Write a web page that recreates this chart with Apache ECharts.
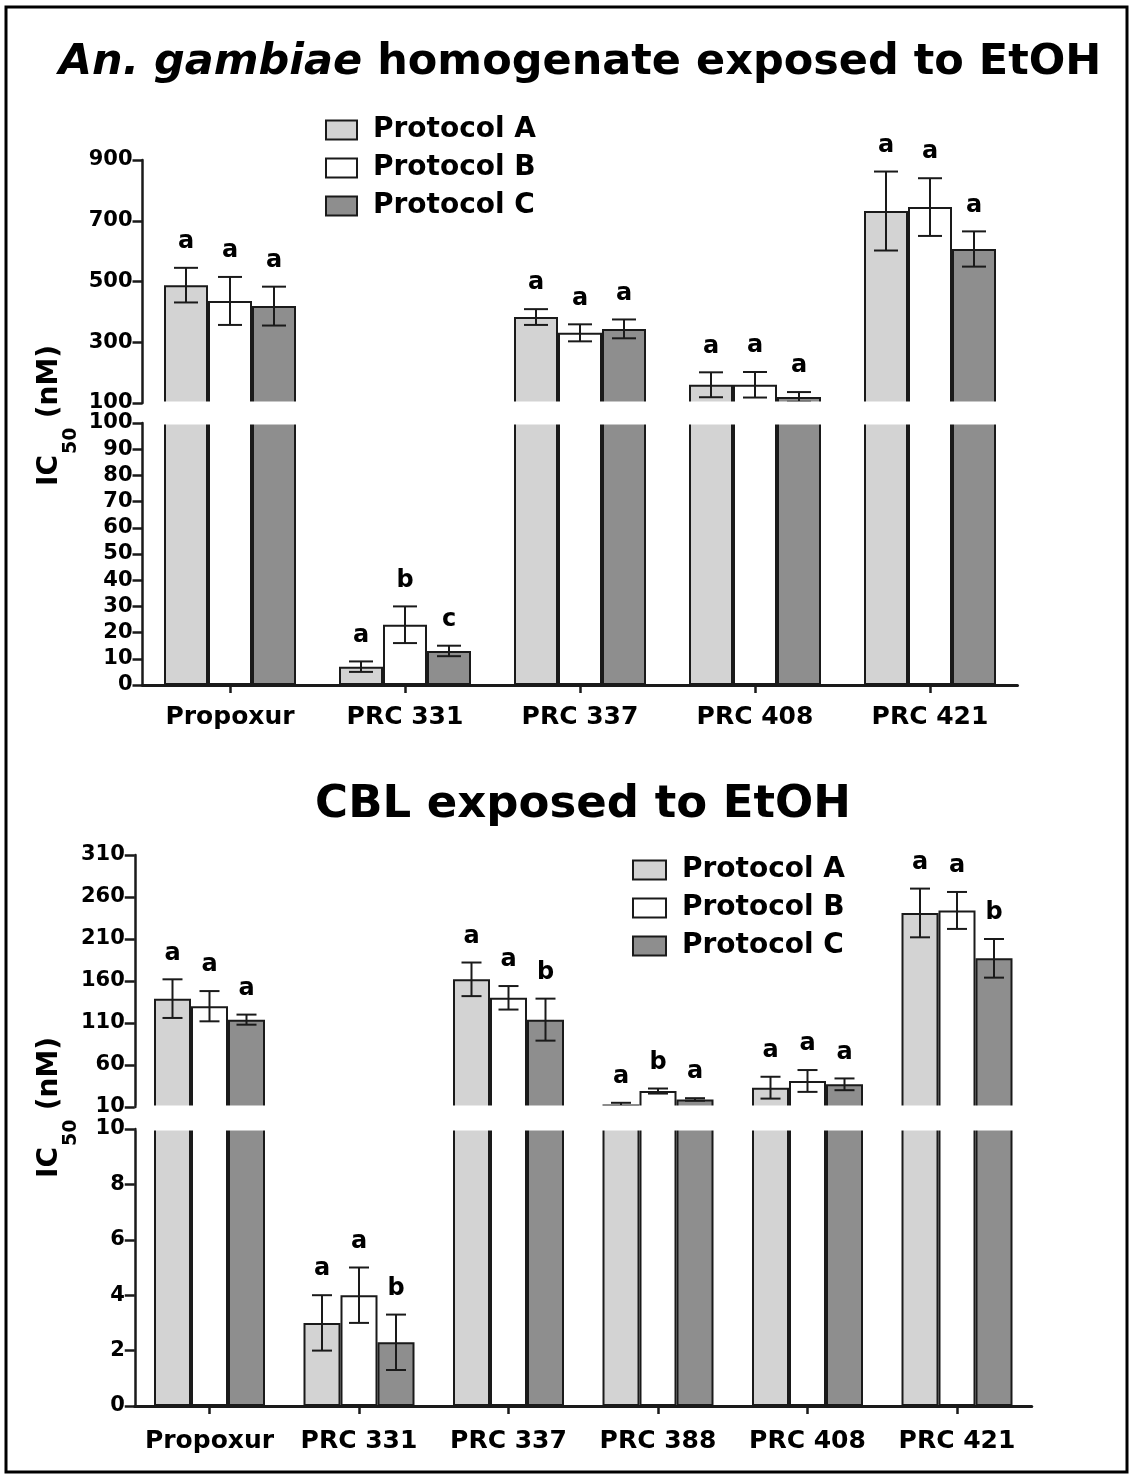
<!DOCTYPE html>
<html>
<head>
<meta charset="utf-8">
<title>IC50 - An. gambiae / CBL</title>
<script src="https://cdn.jsdelivr.net/npm/echarts@6.0.0/dist/echarts.min.js"></script>
<style>
html, body { margin: 0; padding: 0; background: #fff; }
#chart { width: 1133px; height: 1479px; }
</style>
</head>
<body>
<div id="chart"></div>
<script>
var protocols = ['Protocol A', 'Protocol B', 'Protocol C'];
var colors = ['#d3d3d3', '#ffffff', '#8e8e8e'];

// top panel: An. gambiae homogenate exposed to EtOH
var topCats = ['Propoxur', 'PRC 331', 'PRC 337', 'PRC 408', 'PRC 421'];
var topA = [488, 7, 383, 160, 732];
var topB = [436, 23, 331, 160, 745];
var topC = [419, 13, 344, 120, 607];
var topAErr = [57, 2, 26, 41, 130];
var topBErr = [79, 7, 28, 42, 95];
var topCErr = [64, 2, 31, 16, 58];
var topALetter = ['a', 'a', 'a', 'a', 'a'];
var topBLetter = ['a', 'b', 'a', 'a', 'a'];
var topCLetter = ['a', 'c', 'a', 'a', 'a'];
var topHiTicks = [100, 300, 500, 700, 900];
var topLoTicks = [0, 10, 20, 30, 40, 50, 60, 70, 80, 90, 100];

// bottom panel: CBL exposed to EtOH
var botCats = ['Propoxur', 'PRC 331', 'PRC 337', 'PRC 388', 'PRC 408', 'PRC 421'];
var botA = [139, 3, 162, 13, 33, 241];
var botB = [130, 4, 140, 29, 41, 244];
var botC = [114, 2.3, 114, 19, 37, 187];
var botAErr = [23, 1, 20, 2, 13, 29];
var botBErr = [18, 1, 14, 3, 13, 22];
var botCErr = [6, 1, 25, 1.5, 7, 23];
var botALetter = ['a', 'a', 'a', 'a', 'a', 'a'];
var botBLetter = ['a', 'a', 'a', 'b', 'a', 'a'];
var botCLetter = ['a', 'b', 'b', 'a', 'a', 'b'];
var botHiTicks = [10, 60, 110, 160, 210, 260, 310];
var botLoTicks = [0, 2, 4, 6, 8, 10];

var FONT = '"DejaVu Sans", "Liberation Sans", sans-serif';
var INK = '#1a1a1a';

// grid index: 0 top-upper, 1 top-lower, 2 bottom-upper, 3 bottom-lower
var grids = [
	{ left: 142.5, right: 115.5, top: 160, height: 243 },
	{ left: 142.5, right: 115.5, top: 423, height: 262 },
	{ left: 134.75, right: 101.25, top: 855, height: 252 },
	{ left: 134.75, right: 101.25, top: 1129, height: 277 }
];

function xAxisFor(idx, cats, shown, margin) {
	return {
		type: 'category', gridIndex: idx, data: cats, show: shown,
		axisLine: { show: shown, lineStyle: { color: INK, width: 3 } },
		axisTick: { show: shown, alignWithLabel: true, length: 8, lineStyle: { color: INK, width: 2.5 } },
		axisLabel: { show: shown, margin: margin, fontFamily: FONT, fontWeight: 'bold', fontSize: 25, color: '#000', interval: 0 }
	};
}

function yAxisFor(idx, ticks) {
	return {
		type: 'value', gridIndex: idx,
		min: ticks[0], max: ticks[ticks.length - 1], interval: ticks[1] - ticks[0],
		splitLine: { show: false },
		axisLine: { show: true, lineStyle: { color: INK, width: 2.5 } },
		axisTick: { show: true, length: 10, lineStyle: { color: INK, width: 2.5 } },
		axisLabel: { margin: 10, fontFamily: FONT, fontWeight: 'bold', fontSize: 21, color: '#000' }
	};
}

// bars: upper grid keeps only values above the break, lower grid is clipped
function barSeries(idx, vals, brk, upper, barW) {
	var out = [];
	for (var k = 0; k < 3; k++) {
		out.push({
			type: 'bar', name: protocols[k], xAxisIndex: idx, yAxisIndex: idx,
			barWidth: barW, barGap: '0%', clip: true, silent: true,
			data: vals[k].map(function (v) { return upper ? (v >= brk ? v : '-') : v; }),
			itemStyle: { color: colors[k], borderColor: INK, borderWidth: 2 }
		});
	}
	return out;
}

function errSeries(idx, vals, errs, letters, brk, upper, barW, capW) {
	var items = [];
	for (var k = 0; k < 3; k++) {
		for (var i = 0; i < vals[k].length; i++) {
			if ((vals[k][i] >= brk) === upper) items.push([i, k]);
		}
	}
	return {
		type: 'custom', xAxisIndex: idx, yAxisIndex: idx, z: 5, silent: true,
		data: items,
		renderItem: function (params, api) {
			var i = api.value(0), k = api.value(1);
			var v = vals[k][i], e = errs[k][i];
			var x = api.coord([i, v])[0] + (k - 1) * barW;
			var y1 = api.coord([i, v + e])[1];
			var y2 = api.coord([i, v - e])[1];
			var ls = { stroke: INK, lineWidth: 2 };
			return {
				type: 'group',
				children: [
					{ type: 'line', shape: { x1: x, y1: y1, x2: x, y2: y2 }, style: ls },
					{ type: 'line', shape: { x1: x - capW / 2, y1: y1, x2: x + capW / 2, y2: y1 }, style: ls },
					{ type: 'line', shape: { x1: x - capW / 2, y1: y2, x2: x + capW / 2, y2: y2 }, style: ls },
					{ type: 'text', style: { text: letters[k][i], x: x, y: y1 - 14, align: 'center', verticalAlign: 'bottom',
						fontFamily: FONT, fontWeight: 'bold', fontSize: 24, fill: '#000' } }
				]
			};
		}
	};
}

function legendAt(left, top, w) {
	return {
		data: protocols, orient: 'vertical', left: left, top: top, padding: 0,
		itemWidth: w, itemHeight: 19, itemGap: 8, icon: 'rect', selectedMode: false,
		itemStyle: { borderColor: INK, borderWidth: 2 },
		textStyle: { fontFamily: FONT, fontWeight: 'bold', fontSize: 28, color: '#000', lineHeight: 30, padding: [0, 0, 0, 11] }
	};
}

function icLabel(cx, cy) {
	return {
		type: 'group', x: cx, y: cy, rotation: Math.PI / 2,
		children: [
			{ type: 'text', x: -70, y: 0, style: { text: 'IC', align: 'left', verticalAlign: 'middle', fontFamily: FONT, fontWeight: 'bold', fontSize: 28, fill: '#000' } },
			{ type: 'text', x: -38, y: 21, style: { text: '50', align: 'left', verticalAlign: 'middle', fontFamily: FONT, fontWeight: 'bold', fontSize: 19, fill: '#000' } },
			{ type: 'text', x: -12, y: 0, style: { text: ' (nM)', align: 'left', verticalAlign: 'middle', fontFamily: FONT, fontWeight: 'bold', fontSize: 28, fill: '#000' } }
		]
	};
}

// white strip over the axis break so the cut bars show no end borders
function breakMask(g1, g2) {
	var y0 = g1.top + g1.height - 1.5;
	return {
		type: 'rect', z: 100, silent: true,
		shape: { x: g1.left + 2, y: y0, width: 1133 - g1.right - g1.left, height: g2.top + 1.5 - y0 },
		style: { fill: '#ffffff' }
	};
}

var topVals = [topA, topB, topC], topErrs = [topAErr, topBErr, topCErr], topLets = [topALetter, topBLetter, topCLetter];
var botVals = [botA, botB, botC], botErrs = [botAErr, botBErr, botCErr], botLets = [botALetter, botBLetter, botCLetter];
var topBrk = topHiTicks[0], botBrk = botHiTicks[0];

var series = [].concat(
	barSeries(0, topVals, topBrk, true, 44),
	barSeries(1, topVals, topBrk, false, 44),
	barSeries(2, botVals, botBrk, true, 37),
	barSeries(3, botVals, botBrk, false, 37),
	[errSeries(0, topVals, topErrs, topLets, topBrk, true, 44, 24),
	 errSeries(1, topVals, topErrs, topLets, topBrk, false, 44, 24),
	 errSeries(2, botVals, botErrs, botLets, botBrk, true, 37, 20),
	 errSeries(3, botVals, botErrs, botLets, botBrk, false, 37, 20)]
);

var myChart = echarts.init(document.getElementById('chart'));
var option = {
	backgroundColor: '#ffffff',
	animation: false,
	grid: grids,
	xAxis: [
		xAxisFor(0, topCats, false, 0),
		xAxisFor(1, topCats, true, 20),
		xAxisFor(2, botCats, false, 0),
		xAxisFor(3, botCats, true, 23)
	],
	yAxis: [
		yAxisFor(0, topHiTicks),
		yAxisFor(1, topLoTicks),
		yAxisFor(2, botHiTicks),
		yAxisFor(3, botLoTicks)
	],
	legend: [legendAt(325, 115, 31), legendAt(632, 855, 33)],
	graphic: [
		{ type: 'rect', shape: { x: 6, y: 7, width: 1121, height: 1465 }, style: { fill: 'none', stroke: '#000', lineWidth: 3 } },
		breakMask(grids[0], grids[1]),
		breakMask(grids[2], grids[3]),
		{ type: 'text', x: 580, y: 63, style: {
			text: '{i|An. gambiae} homogenate exposed to EtOH', align: 'center', verticalAlign: 'middle',
			fontFamily: FONT, fontWeight: 'bold', fontSize: 43, fill: '#000',
			rich: { i: { fontFamily: FONT, fontWeight: 'bold', fontStyle: 'italic', fontSize: 43, fill: '#000' } }
		} },
		{ type: 'text', x: 583, y: 805, style: {
			text: 'CBL exposed to EtOH', align: 'center', verticalAlign: 'middle',
			fontFamily: FONT, fontWeight: 'bold', fontSize: 45, fill: '#000'
		} },
		icLabel(50, 416),
		icLabel(50, 1108)
	],
	series: series
};
myChart.setOption(option);
window.onresize = function () { myChart.resize(); };
</script>
</body>
</html>
